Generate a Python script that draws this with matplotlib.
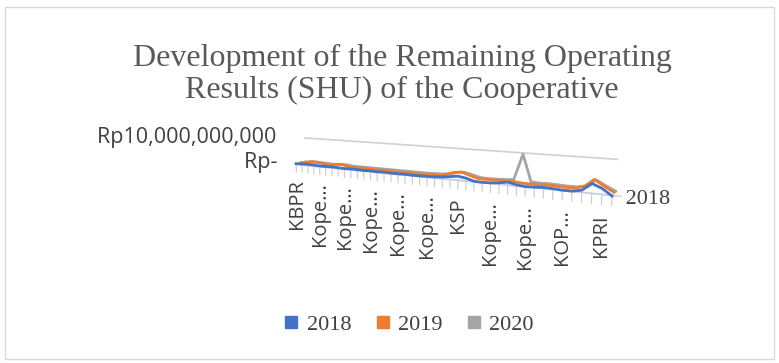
import numpy as np
import matplotlib.pyplot as plt
from matplotlib.lines import Line2D
from mpl_toolkits.mplot3d import proj3d

# SHU per cooperative, in rupiah
n_coops = 42
tick_labels = ["KBPR", "Kope…", "Kope…", "Kope…", "Kope…", "Kope…",
               "KSP", "Kope…", "Kope…", "KOP…", "KPRI"]
label_step = 4
years = ["2018", "2019", "2020"]

shu_2018 = np.array([0.3, 0.4, 0.5, 0.4, 0.3, 0.3, 0.4, 0.3, 0.2, 0.3, 0.3, 0.2,
                     0.3, 0.2, 0.3, 0.2, 0.2, 0.3, 0.2, 0.2, 0.3, 0.4, 0.6, 1.0,
                     1.4, 1.0, 0.2, 0.1, 0.2, 0.5, 1.0, 0.4, 0.1, 0.2, 0.4, 0.3,
                     0.1, 0.1, 0.7, 3.0, 1.8, -0.2]) * 1e9
shu_2019 = np.array([0.3, 0.7, 1.2, 1.1, 0.6, 0.4, 1.0, 1.1, 0.4, 0.3, 0.4, 0.3,
                     0.4, 0.3, 0.4, 0.3, 0.3, 0.4, 0.3, 0.3, 0.4, 0.6, 1.0, 2.0,
                     2.4, 1.5, 0.7, 0.6, 0.7, 0.8, 0.9, 0.6, 0.5, 0.5, 0.7, 0.6,
                     0.5, 0.5, 1.3, 3.8, 2.0, 0.4]) * 1e9
shu_2020 = np.array([0.2, 0.3, 0.5, 0.5, 0.4, 0.3, 0.5, 0.6, 0.3, 0.3, 0.3, 0.3,
                     0.3, 0.3, 0.3, 0.3, 0.3, 0.3, 0.3, 0.3, 0.4, 0.5, 0.8, 1.5,
                     1.8, 1.2, 0.5, 0.4, 0.5, 0.6, 0.9, 9.6, 0.7, 0.5, 0.6, 0.5,
                     0.4, 0.4, 1.0, 3.2, 1.6, 0.2]) * 1e9
colors = ["#4472C4", "#ED7D31", "#A5A5A5"]
z_top = 10e9

fig = plt.figure(figsize=(7.79, 3.63), dpi=100)
fig.patches.append(plt.Rectangle((0.006, 0.012), 0.988, 0.97, transform=fig.transFigure,
                                 fill=False, edgecolor="#d9d9d9", linewidth=1))

fig.text(0.516, 0.795, "Development of the Remaining Operating\nResults (SHU) of the Cooperative",
         ha="center", va="center", family="Liberation Serif", fontsize=23,
         color="#595959", linespacing=1.13)

ax = fig.add_axes([0.334, 0.072, 0.436, 0.937], projection="3d")
ax.set_axis_off()
ax.set_proj_type("persp", focal_length=0.3)
ax.view_init(elev=9, azim=-62)
ax.set_box_aspect((14, 0.65, 1.15), zoom=1.0)

x = np.arange(n_coops)
depth = 0.5
series = [shu_2018, shu_2019, shu_2020]
y_back = (len(series) - 1) * depth
ax.set_xlim(0, n_coops - 1)
ax.set_ylim(0, y_back)
ax.set_zlim(0, z_top)

# gridline at the top of the value axis and the floor line
ax.plot([0, n_coops - 1], [y_back, y_back], [z_top, z_top], color="#d0d0d0", lw=1.2, clip_on=False)
ax.plot([0, n_coops - 1], [0, 0], [0, 0], color="#c9d3e3", lw=1.5, clip_on=False)
ax.plot([n_coops - 1, n_coops - 0.2], [0, 0], [0, 0], color="#d9d9d9", lw=1.5, clip_on=False)

tick_len = 0.3 * z_top
for i in x:
    ax.plot([i, i], [0, 0], [0, -tick_len], color="#c9c9c9", lw=0.8, clip_on=False)

for k in range(len(series) - 1, -1, -1):
    ax.plot(x, np.full(n_coops, k * depth), series[k], color=colors[k], lw=2, clip_on=False)

# place 2D labels at projected 3D anchor points
fig.canvas.draw()
proj = ax.get_proj()


def to_2d(xs, ys, zs):
    px, py, _ = proj3d.proj_transform(xs, ys, zs, proj)
    return px, py


lab_style = dict(family="Open Sans", color="#404040", transform=ax.transData, clip_on=False)
for j, lab in enumerate(tick_labels):
    px, py = to_2d(j * label_step, 0, -0.6 * z_top)
    ax.text2D(px, py, lab, rotation=90, rotation_mode="anchor", ha="right", va="center",
              fontsize=14.5, **lab_style)

px, py = to_2d(0, y_back, z_top)
ax.text2D(px, py, "Rp10,000,000,000     ", ha="right", va="center", fontsize=15.5, **lab_style)
px, py = to_2d(0, y_back, 0)
ax.text2D(px, py, "Rp-     ", ha="right", va="center", fontsize=15.5, **lab_style)
px, py = to_2d(n_coops - 0.2, 0, -0.1 * z_top)
ax.text2D(px, py, " " + years[0], ha="left", va="center", fontsize=16,
          family="Liberation Serif", color="#404040", transform=ax.transData, clip_on=False)

handles = [Line2D([], [], marker="s", linestyle="none", markersize=8, color=c) for c in colors]
fig.legend(handles, years, loc="center", bbox_to_anchor=(0.524, 0.105), ncol=3, frameon=False,
           prop={"family": "Liberation Serif", "size": 16}, handlelength=0.8,
           handletextpad=0.3, columnspacing=1.0, labelcolor="#404040")

fig.savefig("out.png", dpi=100)
